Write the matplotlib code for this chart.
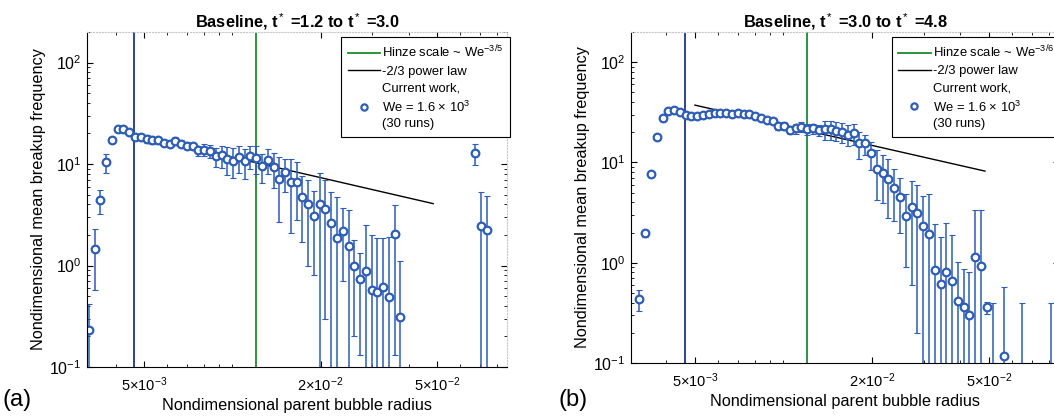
import numpy as np
import matplotlib.pyplot as plt
from matplotlib.ticker import LogLocator, NullFormatter, FixedLocator, FixedFormatter

plt.rcParams['font.family'] = ['Liberation Sans', 'DejaVu Sans']
plt.rcParams['mathtext.fontset'] = 'custom'
plt.rcParams['mathtext.rm'] = 'Liberation Sans'
plt.rcParams['mathtext.it'] = 'Liberation Sans:italic'
plt.rcParams['mathtext.bf'] = 'Liberation Sans:bold'

# ---- panel (a): t* = 1.2 to 3.0 ----
r_a = [3.236e-3, 3.386e-3, 3.543e-3, 3.708e-3, 3.880e-3, 4.060e-3, 4.248e-3, 4.445e-3,
       4.652e-3, 4.867e-3, 5.093e-3, 5.330e-3, 5.577e-3, 5.836e-3, 6.106e-3, 6.390e-3,
       6.686e-3, 6.997e-3, 7.321e-3, 7.661e-3, 8.017e-3, 8.389e-3, 8.778e-3, 9.186e-3,
       9.612e-3, 1.006e-2, 1.052e-2, 1.101e-2, 1.152e-2, 1.206e-2, 1.262e-2, 1.320e-2,
       1.382e-2, 1.446e-2, 1.513e-2, 1.583e-2, 1.657e-2, 1.734e-2, 1.814e-2, 1.898e-2,
       1.986e-2, 2.078e-2, 2.175e-2, 2.276e-2, 2.381e-2, 2.492e-2, 2.608e-2, 2.729e-2,
       2.855e-2, 2.988e-2, 3.126e-2, 3.272e-2, 3.423e-2, 3.582e-2, 3.749e-2,
       6.760e-2, 7.073e-2, 7.401e-2]
f_a = [0.23, 1.44, 4.4, 10.4, 17.1, 22.0, 22.2, 20.6, 18.6, 18.4, 17.7, 17.1, 17.1, 16.2,
       15.9, 16.8, 15.9, 15.2, 14.9, 13.6, 13.9, 13.4, 11.9, 12.2, 11.3, 10.8, 11.7, 10.6,
       11.9, 11.4, 9.5, 11.0, 9.3, 7.2, 8.3, 6.6, 6.6, 4.7, 4.0, 3.1, 4.0, 3.6, 2.6, 1.87,
       2.2, 1.55, 1.0, 0.73, 0.88, 0.58, 0.55, 0.62, 0.49, 2.03, 0.31,
       12.8, 2.43, 2.22]
e_a = [0.19, 0.87, 1.2, 2.2, 0.6, 0.6, 0.8, 0.8, 1.5, 1.2, 1.5, 1.2, 1.5, 1.2,
       1.2, 1.5, 1.2, 1.2, 1.2, 1.5, 2.0, 2.0, 2.5, 3.0, 3.5, 3.5, 3.5, 3.5,
       3.0, 3.5, 3.0, 3.0, 3.5, 4.5, 3.0, 4.5, 3.8, 3.0, 3.0, 2.3, 4.2, 3.3, 2.7, 2.9,
       1.5, 2.0, 0.8, 0.6, 1.6, 1.4, 1.3, 1.26, 1.4, 1.9, 0.8,
       3.1, 2.9, 2.6]
law_r_a = [5.0e-3, 4.85e-2]
law_f_a = [18.5, 4.07]

# ---- panel (b): t* = 3.0 to 4.8 ----
r_b = [3.236e-3, 3.386e-3, 3.543e-3, 3.708e-3, 3.880e-3, 4.060e-3, 4.248e-3, 4.445e-3,
       4.652e-3, 4.867e-3, 5.093e-3, 5.330e-3, 5.577e-3, 5.836e-3, 6.106e-3, 6.390e-3,
       6.686e-3, 6.997e-3, 7.321e-3, 7.661e-3, 8.017e-3, 8.389e-3, 8.778e-3, 9.186e-3,
       9.612e-3, 1.006e-2, 1.052e-2, 1.101e-2, 1.152e-2, 1.206e-2, 1.262e-2, 1.320e-2,
       1.382e-2, 1.446e-2, 1.513e-2, 1.583e-2, 1.657e-2, 1.734e-2, 1.814e-2, 1.898e-2,
       1.986e-2, 2.078e-2, 2.175e-2, 2.276e-2, 2.381e-2, 2.492e-2, 2.608e-2, 2.729e-2,
       2.855e-2, 2.988e-2, 3.126e-2, 3.272e-2, 3.423e-2, 3.582e-2, 3.749e-2, 3.923e-2,
       4.105e-2, 4.295e-2, 4.495e-2, 4.703e-2, 4.920e-2, 5.149e-2, 5.636e-2, 6.460e-2,
       8.104e-2]
f_b = [0.43, 1.96, 7.6, 18.0, 27.5, 32.7, 33.3, 31.5, 29.9, 29.0, 29.0, 29.7, 30.3, 30.8,
       31.0, 30.8, 30.6, 30.8, 30.5, 30.3, 29.2, 27.7, 26.5, 26.2, 23.1, 23.1, 21.1, 21.9,
       22.7, 21.5, 21.9, 21.0, 21.4, 21.4, 20.7, 20.2, 19.0, 19.5, 15.5, 15.5, 12.3, 8.7,
       7.9, 6.8, 5.6, 4.5, 2.9, 3.6, 3.1, 2.3, 1.93, 0.85, 0.61, 0.81, 0.66, 0.42,
       0.36, 0.30, 1.15, 0.93, 0.36, 0.05, 0.118, 0.05,
       0.05]
e_b = [0.1, 0.15, 0.4, 0.6, 0.6, 0.6, 0.6, 0.6, 0.6, 0.6, 0.6, 0.6, 0.6, 0.6,
       0.6, 0.6, 0.6, 0.6, 0.6, 0.6, 1.2, 1.2, 1.2, 1.5, 2.0, 2.0, 2.0, 2.5,
       2.5, 2.5, 2.5, 2.5, 4.5, 4.5, 4.5, 4.5, 4.5, 4.5, 4.7, 3.5, 3.8, 4.5,
       4.0, 4.0, 3.0, 2.5, 2.0, 3.0, 2.9, 2.3, 2.9, 1.6, 1.2, 1.66, 1.24, 0.6,
       0.5, 0.5, 2.2, 2.4, 0.05, 0.35, 0.46, 0.35,
       0.35]
law_r_b = [5.0e-3, 4.85e-2]
law_f_b = [37.3, 8.2]

hinze_r = 1.2e-2
lower_r = 4.63e-3

blue = '#2d5db5'
navy = '#1f3590'
green = '#1d8a2c'

fig = plt.figure(figsize=(10.54, 4.19), dpi=100)
ax_a = fig.add_axes([87 / 1054, 52 / 419, 420 / 1054, 335 / 419])
ax_b = fig.add_axes([631 / 1054, 56 / 419, 428 / 1054, 331 / 419])

panels = [
    (ax_a, r_a, f_a, e_a, law_r_a, law_f_a, 'Baseline, t$^*$ =1.2 to t$^*$ =3.0',
     'Hinze scale ~ We$^{-3/5}$', (3.19e-3, 0.0866), 0.605),
    (ax_b, r_b, f_b, e_b, law_r_b, law_f_b, 'Baseline, t$^*$ =3.0 to t$^*$ =4.8',
     'Hinze scale ~ We$^{-3/6}$', (3.03e-3, 0.0866), 0.609),
]

for ax, r, f, e, lr, lf, title, hlabel, xl, legx in panels:
    ax.set_xscale('log')
    ax.set_yscale('log')
    ax.axvline(lower_r, color=navy, lw=1.3)
    hz = ax.axvline(hinze_r, color=green, lw=1.3)
    pl, = ax.plot(lr, lf, color='black', lw=1.0)
    ax.errorbar(r, f, yerr=e, fmt='none', ecolor=blue, elinewidth=1.1,
                capsize=2, capthick=0.8)
    ax.plot(r, f, 'o', ms=5.5, mfc='white', mec=blue, mew=1.6)
    mk, = ax.plot([], [], 'o', ms=4.5, mfc='white', mec=blue, mew=1.6)

    ax.set_xlim(*xl)
    ax.set_ylim(0.1, 200)
    ax.xaxis.set_major_locator(FixedLocator([5e-3, 2e-2, 5e-2]))
    ax.xaxis.set_major_formatter(FixedFormatter(['5$\\times$10$^{-3}$', '2$\\times$10$^{-2}$',
                                                 '5$\\times$10$^{-2}$']))
    ax.xaxis.set_minor_locator(LogLocator(base=10, subs=np.arange(1, 10)))
    ax.xaxis.set_minor_formatter(NullFormatter())
    ax.yaxis.set_minor_locator(LogLocator(base=10, subs=np.arange(2, 10)))
    ax.yaxis.set_minor_formatter(NullFormatter())
    ax.tick_params(which='both', direction='in', top=True, right=True)
    ax.tick_params(axis='x', labelsize=10.5, pad=6)
    ax.tick_params(axis='y', labelsize=11.5, pad=4)
    ax.tick_params(which='major', length=4)
    ax.tick_params(which='minor', length=2)
    for s in ['top', 'right']:
        ax.spines[s].set_color('#c8c8c8')
        ax.spines[s].set_linestyle(':')

    ax.set_title(title, fontsize=11.8, fontweight='bold', pad=3)
    ax.set_xlabel('Nondimensional parent bubble radius', fontsize=11.7, labelpad=3)
    ax.set_ylabel('Nondimensional mean breakup frequency', fontsize=11.7, labelpad=2)

    leg = ax.legend([hz, pl, mk],
                    [hlabel, '-2/3 power law', 'Current work,\nWe = 1.6 \u00d7 10$^3$\n(30 runs)'],
                    loc='upper left', bbox_to_anchor=(legx, 0.985), borderaxespad=0,
                    fontsize=9.4, frameon=True, fancybox=False, edgecolor='black',
                    framealpha=1, handlelength=2.5, handletextpad=0.15,
                    borderpad=0.5, labelspacing=0.4)
    for t in leg.get_texts():
        t.set_linespacing(1.4)
    leg.get_frame().set_linewidth(0.8)

fig.text(0.002, 0.03, '(a)', fontsize=17)
fig.text(0.530, 0.03, '(b)', fontsize=17)

fig.savefig('out.png', dpi=100)
